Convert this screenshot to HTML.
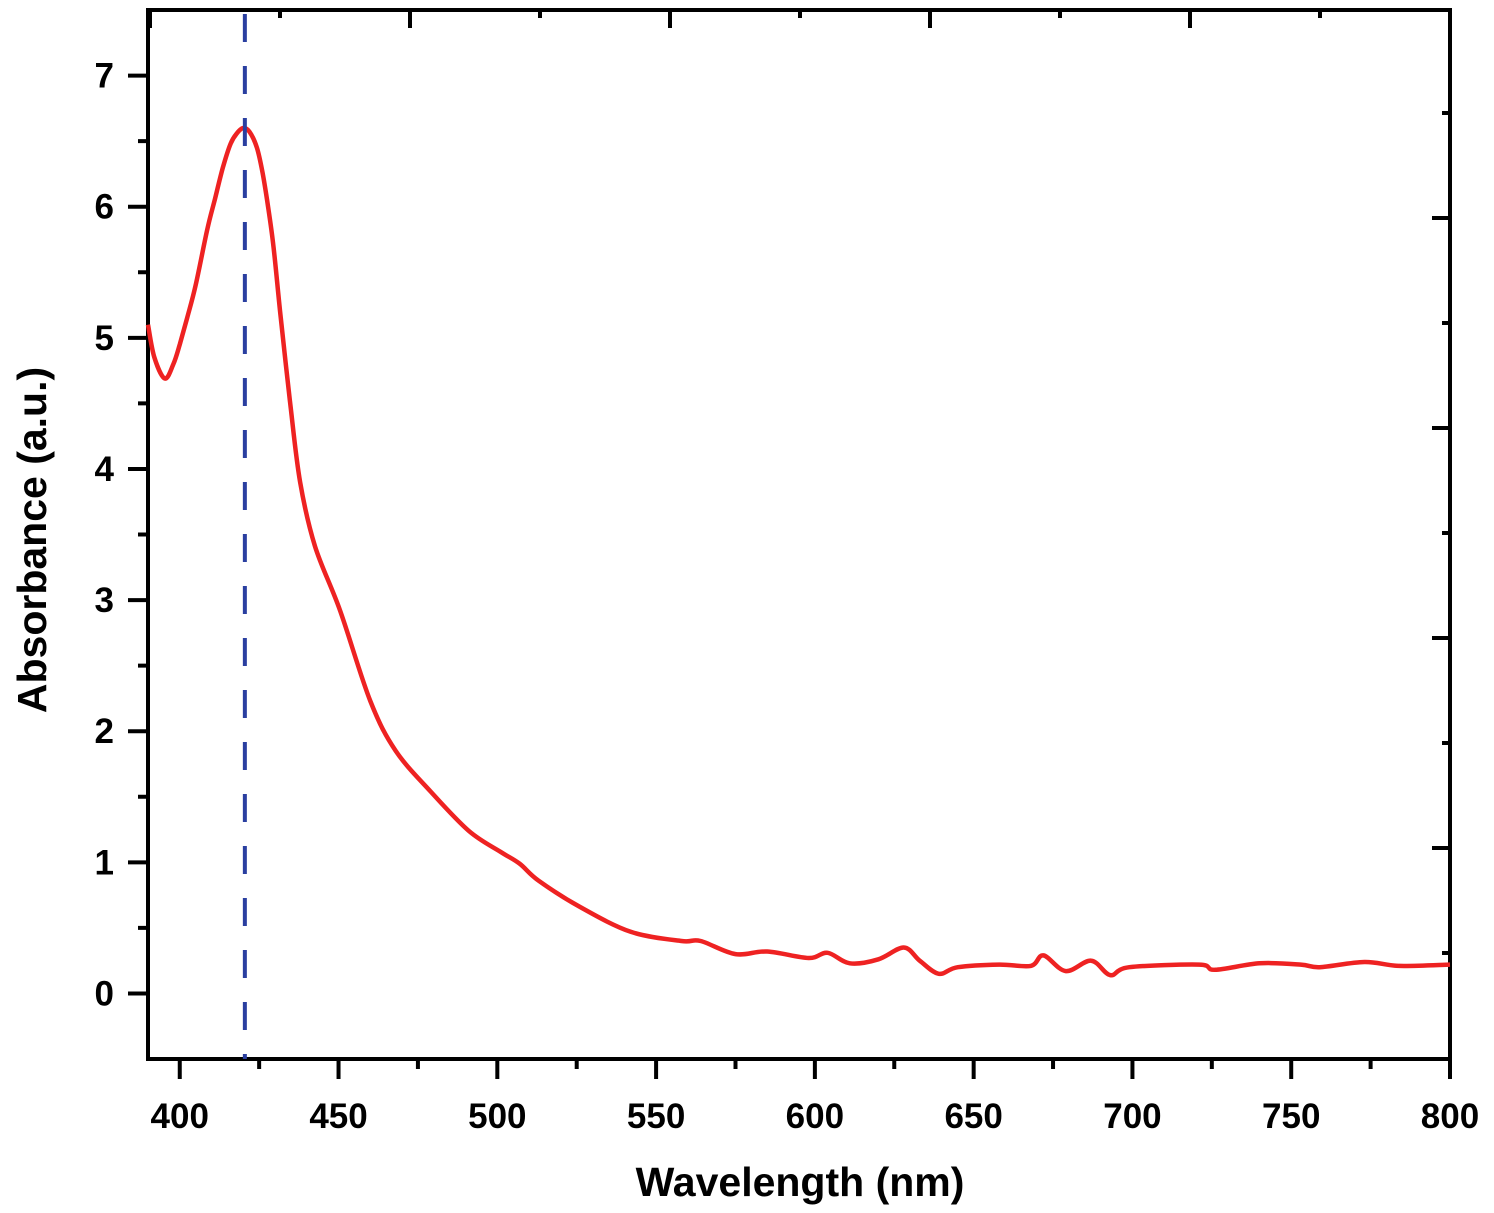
<!DOCTYPE html>
<html><head><meta charset="utf-8"><style>
html,body{margin:0;padding:0;background:#fff;}
svg{display:block;font-family:"Liberation Sans",sans-serif;}
</style></head><body>
<svg id="chart" width="1494" height="1213"></svg>
<script>
const wavelengths=[390,392,395.3,398,400,402.3,405,408.6,411,413.6,416,418,420,422,424.3,426,427.5,429.5,431.6,434.7,437.9,442.6,450.5,460,468,479,491,501,507,513,526,542,558,564,575,585,598,604,611,620,628,633,639,645,658,668,672,679,687,693,699,721,726,740,753,759,773,784,800];
const absorbance=[5.1,4.85,4.69,4.8,4.95,5.15,5.4,5.82,6.05,6.3,6.48,6.56,6.6,6.57,6.45,6.27,6.05,5.7,5.2,4.52,3.9,3.41,2.92,2.23,1.85,1.54,1.24,1.08,0.99,0.86,0.66,0.47,0.40,0.40,0.30,0.32,0.27,0.31,0.23,0.26,0.35,0.25,0.15,0.20,0.22,0.21,0.29,0.17,0.25,0.14,0.20,0.22,0.18,0.23,0.22,0.20,0.24,0.21,0.22];
const xTicks=[400,450,500,550,600,650,700,750,800];
const yTicks=[0,1,2,3,4,5,6,7];
const peakWavelength=420.5;
const NS="http://www.w3.org/2000/svg";
const svg=document.getElementById('chart');
const L=148,R=1450,T=10,B=1059,X0=390,X1=800,Y0=-0.5,Y1=7.5;
const sx=v=>L+(v-X0)/(X1-X0)*(R-L);
const sy=v=>B-(v-Y0)/(Y1-Y0)*(B-T);
function mk(tag,attrs){const e=document.createElementNS(NS,tag);for(const k in attrs)e.setAttribute(k,attrs[k]);svg.appendChild(e);return e;}
let f=mk('rect',{x:L,y:T,width:R-L,height:B-T,fill:'none',stroke:'#000','stroke-width':4});


for(let v=400;v<=800;v+=25){const major=v%50===0;const t=mk('line',{x1:sx(v),x2:sx(v),y1:B,y2:B+(major?20:10),stroke:'#000','stroke-width':4});

}
xTicks.forEach(v=>{const t=mk('text',{x:sx(v),y:1128,'text-anchor':'middle','font-size':35,'font-weight':'bold'});t.textContent=v;

});
for(let v=0;v<=7;v+=0.5){const major=v%1===0;const t=mk('line',{x1:L-(major?20:10),x2:L,y1:sy(v),y2:sy(v),stroke:'#000','stroke-width':4});

}
yTicks.forEach(v=>{const t=mk('text',{x:114,y:sy(v)+12,'text-anchor':'end','font-size':35,'font-weight':'bold'});t.textContent=v;

});
for(let i=0;i<10;i++){const x=150+130*i;if(x<=L||x>=R)continue;const major=i%2===0;const t=mk('line',{x1:x,x2:x,y1:T,y2:T+(major?18:8),stroke:'#000','stroke-width':4});

}
for(let i=0;i<9;i++){const y=113+105*i;const major=i%2===1;const t=mk('line',{x1:R-(major?18:8),x2:R,y1:y,y2:y,stroke:'#000','stroke-width':4});

}
// smooth curve (Catmull-Rom through data points)
const pts=wavelengths.map((w,i)=>[sx(w),sy(absorbance[i])]);
let d='M'+pts[0][0].toFixed(1)+','+pts[0][1].toFixed(1);
for(let i=0;i<pts.length-1;i++){const p0=pts[Math.max(0,i-1)],p1=pts[i],p2=pts[i+1],p3=pts[Math.min(pts.length-1,i+2)];
const c1=[p1[0]+(p2[0]-p0[0])/6,p1[1]+(p2[1]-p0[1])/6],c2=[p2[0]-(p3[0]-p1[0])/6,p2[1]-(p3[1]-p1[1])/6];
d+=' C'+c1.map(n=>n.toFixed(1)).join(',')+' '+c2.map(n=>n.toFixed(1)).join(',')+' '+p2.map(n=>n.toFixed(1)).join(',');}
const p=mk('path',{d:d,fill:'none',stroke:'#ee2222','stroke-width':4.5,'stroke-linejoin':'round'});


const dl=mk('line',{x1:sx(peakWavelength),x2:sx(peakWavelength),y1:T+4,y2:B,stroke:'#2a3fa0','stroke-width':4,'stroke-dasharray':'28,24'});


const xt=mk('text',{x:800,y:1196,'text-anchor':'middle','font-size':41,'font-weight':'bold'});xt.textContent='Wavelength (nm)';


const yt=mk('text',{x:0,y:0,'text-anchor':'middle','font-size':41,'font-weight':'bold',transform:'translate(46,540) rotate(-90)'});yt.textContent='Absorbance (a.u.)';


</script>
</body></html>
